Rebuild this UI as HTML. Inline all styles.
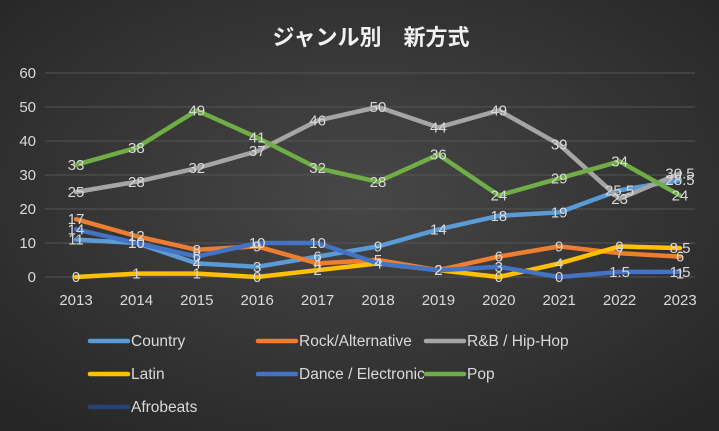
<!DOCTYPE html>
<html><head><meta charset="utf-8"><style>
body{margin:0;width:719px;height:431px;overflow:hidden;background:#333}
svg{display:block}
text{font-family:"Liberation Sans","Noto Sans CJK JP",sans-serif}
</style></head><body>
<svg id="chart" width="719" height="431">
<defs><radialGradient id="bg" cx="50%" cy="45%" r="70%"><stop offset="0" stop-color="#474747"/><stop offset="1" stop-color="#262626"/></radialGradient></defs>
<rect width="719" height="431" fill="url(#bg)"/>
<text x="371" y="45" text-anchor="middle" fill="#f2f2f2" font-size="22" font-weight="bold">ジャンル別　新方式</text>
<g id="grid"></g><g id="series"></g><g id="labels"></g><g id="legend"></g>
</svg>
<script>
const years=["2013","2014","2015","2016","2017","2018","2019","2020","2021","2022","2023"];
const yTicks=[0,10,20,30,40,50,60];
const seriesNames=["Country","Rock/Alternative","R&B / Hip-Hop","Latin","Dance / Electronic","Pop","Afrobeats"];
const country=[11,10,4,3,6,9,14,18,19,25.5,28.5];
const rock=[17,12,8,9,4,5,2,6,9,7,6];
const rnb=[25,28,32,37,46,50,44,49,39,23,30.5];
const latin=[0,1,1,0,2,4,2,0,4,9,8.5];
const dance=[14,10,6,10,10,4,2,3,0,1.5,1.5];
const pop=[33,38,49,41,32,28,36,24,29,34,24];
const afro=[null,null,null,null,null,null,null,null,null,null,1];
const colors=["#5b9bd5","#ed7d31","#a5a5a5","#ffc000","#4472c4","#70ad47","#264478"];
const allData=[country,rock,rnb,latin,dance,pop,afro];
const NS="http://www.w3.org/2000/svg";
const x=i=>76+i*60.4, y=v=>277-v*3.4;
function mk(tag,attrs,parent,txt){const e=document.createElementNS(NS,tag);for(const k in attrs)e.setAttribute(k,attrs[k]);if(txt!==undefined)e.textContent=txt;parent.appendChild(e);return e;}
const grid=document.getElementById('grid');
yTicks.forEach(t=>{
 const l=mk('line',{x1:45,x2:695,y1:y(t),y2:y(t),stroke:'#555','stroke-width':1},grid);
 
 
 const tx=mk('text',{x:36,y:y(t)+5,'text-anchor':'end',fill:'#d9d9d9','font-size':15},grid,String(t));
 
 
});
years.forEach((yr,i)=>{
 const tx=mk('text',{x:x(i),y:305,'text-anchor':'middle',fill:'#d9d9d9','font-size':15},grid,yr);
 
 
});
const sg=document.getElementById('series'), lg=document.getElementById('labels');
allData.forEach((d,s)=>{
 const pts=[];d.forEach((v,i)=>{if(v!==null)pts.push(x(i)+','+y(v));});
 if(pts.length>1){
  const p=mk('polyline',{points:pts.join(' '),fill:'none',stroke:colors[s],'stroke-width':4.5,'stroke-linejoin':'round','stroke-linecap':'round'},sg);
  
  
 }
 d.forEach((v,i)=>{if(v===null)return;
  const t=mk('text',{x:x(i),y:y(v)+5,'text-anchor':'middle',fill:'#d9d9d9','font-size':15},lg,String(v));
  
  
 });
});
const leg=document.getElementById('legend');
const lx=[90,258,426], ly=[341,374,407];
seriesNames.forEach((n,i)=>{
 const cx=lx[i%3], cy=ly[Math.floor(i/3)];
 const g=mk('g',{},leg);
 
 
 mk('line',{x1:cx,x2:cx+38,y1:cy,y2:cy,stroke:colors[i],'stroke-width':4.5,'stroke-linecap':'round'},g);
 mk('text',{x:cx+41,y:cy+5,fill:'#d9d9d9','font-size':15.5},g,n);
});
</script>
</body></html>
